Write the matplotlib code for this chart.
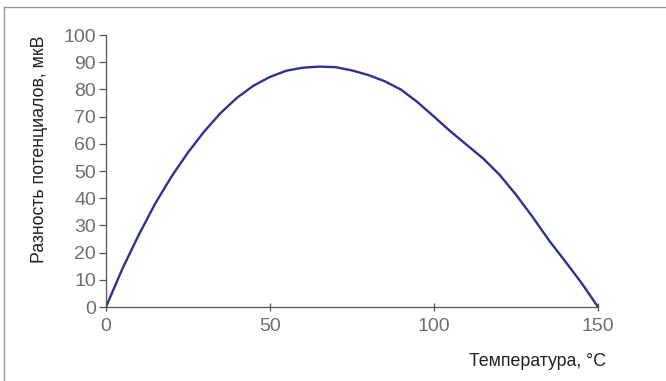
import matplotlib
matplotlib.use("Agg")
import matplotlib.pyplot as plt
from matplotlib.lines import Line2D

# Thermo-EMF versus temperature
temperature = [0, 5, 10, 15, 20, 25, 30, 35, 40, 45, 50, 55, 60, 65, 70, 75,
               80, 85, 90, 95, 100, 105, 110, 115, 120, 125, 130, 135, 140, 145, 150]
emf_uv = [0, 14, 26.5, 38.0, 48.0, 56.8, 64.6, 71.4, 77.0, 81.4, 84.6, 86.9, 88.0, 88.4, 88.2, 87.0,
          85.3, 83.0, 79.9, 75.3, 70.0, 64.6, 59.6, 54.6, 48.6, 41.3, 33.2, 24.6, 16.8, 8.8, 0]

x_ticks = [0, 50, 100, 150]
y_ticks = [0, 10, 20, 30, 40, 50, 60, 70, 80, 90, 100]
x_label = "Температура, °C"
y_label = "Разность потенциалов, мкВ"

plt.rcParams["font.family"] = ["Liberation Sans", "DejaVu Sans"]

fig = plt.figure(figsize=(6.66, 3.81), dpi=100)
ax = fig.add_axes([0.159, 0.194, 0.739, 0.714])

ax.plot(temperature, emf_uv, color="#2e3192", lw=1.7,
        solid_joinstyle="round", solid_capstyle="round")

ax.set_xlim(0, 150)
ax.set_ylim(0, 100)
ax.set_xticks(x_ticks)
ax.set_yticks(y_ticks)

for side in ("top", "right"):
    ax.spines[side].set_visible(False)
for side in ("left", "bottom"):
    ax.spines[side].set_color("#555555")
    ax.spines[side].set_linewidth(0.9)

ax.tick_params(axis="y", direction="out", length=5, width=0.9, color="#555555",
               labelsize=14, labelcolor="#6d6e71", pad=2)
ax.tick_params(axis="x", direction="inout", length=6, width=0.9, color="#555555",
               labelsize=14, labelcolor="#6d6e71", pad=5)

ax.set_ylabel(y_label, fontsize=12.8, color="#231f20")
ax.yaxis.set_label_coords(-0.117, 0.58)
ax.set_xlabel(x_label, fontsize=12.8, color="#231f20", ha="right")
ax.xaxis.set_label_coords(1.017, -0.17)

# partial frame around the figure
fig.add_artist(Line2D([4 / 666, 1], [1 - 7 / 381, 1 - 7 / 381], transform=fig.transFigure,
                      color="#9a9a9a", lw=1.0))
fig.add_artist(Line2D([4 / 666, 4 / 666], [0, 1 - 7 / 381], transform=fig.transFigure,
                      color="#9a9a9a", lw=1.0))

fig.savefig("out.png", dpi=100)
